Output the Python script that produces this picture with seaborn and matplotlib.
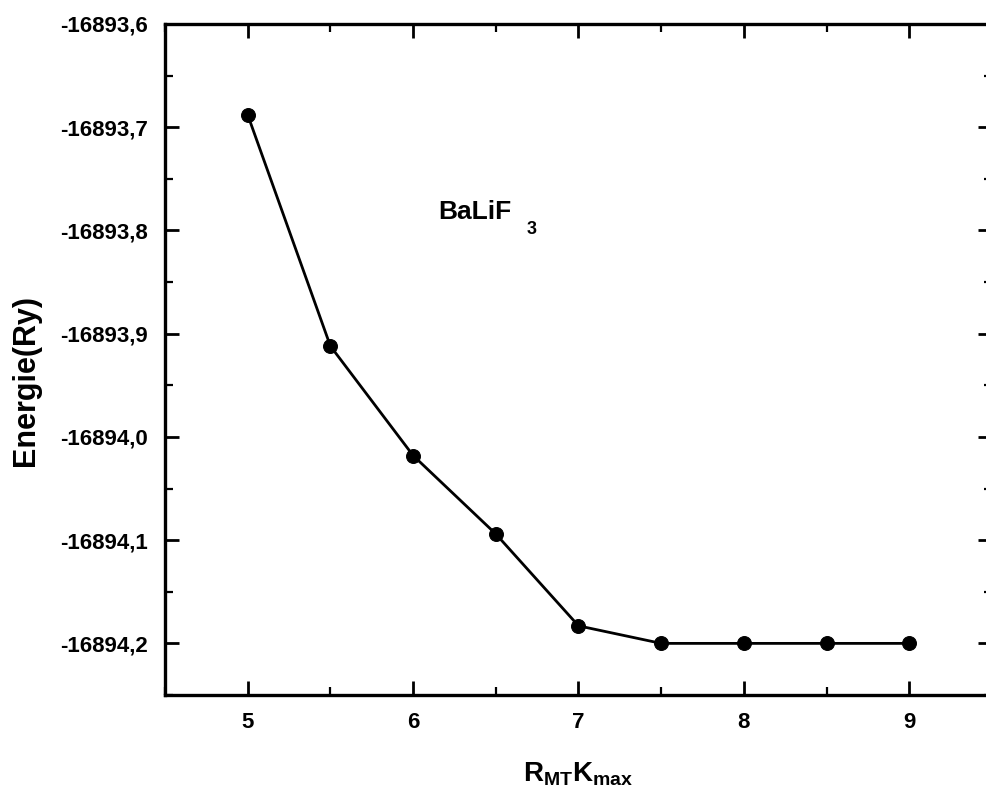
import matplotlib
matplotlib.use("Agg")
import matplotlib.pyplot as plt
import seaborn as sns
import pandas as pd
from matplotlib.ticker import FuncFormatter, MultipleLocator

rmt_kmax = [5.0, 5.5, 6.0, 6.5, 7.0, 7.5, 8.0, 8.5, 9.0]
energy = [-16893.688, -16893.912, -16894.018, -16894.094, -16894.183,
          -16894.200, -16894.200, -16894.200, -16894.200]
x_ticks = [5, 6, 7, 8, 9]
y_ticks = [-16893.6, -16893.7, -16893.8, -16893.9, -16894.0, -16894.1, -16894.2]

df = pd.DataFrame({"x": rmt_kmax, "y": energy})

sns.set_style("white")
plt.rcParams['font.family'] = ['Liberation Sans', 'DejaVu Sans']
plt.rcParams['font.weight'] = 'bold'
plt.rcParams['text.color'] = 'black'
plt.rcParams['axes.labelcolor'] = 'black'
plt.rcParams['mathtext.fontset'] = 'custom'
plt.rcParams['mathtext.rm'] = 'Liberation Sans:bold'
plt.rcParams['mathtext.bf'] = 'Liberation Sans:bold'
plt.rcParams['mathtext.it'] = 'Liberation Sans:bold'

fig = plt.figure(figsize=(9.87, 8.01), dpi=100)
ax = fig.add_axes([165/987, 1 - 695/801, (992 - 165)/987, (695 - 24)/801])

sns.lineplot(data=df, x="x", y="y", ax=ax, color="black", linewidth=2.0,
             marker="o", markersize=10, markeredgecolor="black",
             markerfacecolor="black")

ax.set_xlim(4.5, 9.5)
ax.set_ylim(-16894.25, -16893.6)
ax.set_xticks(x_ticks)
ax.set_yticks(y_ticks)
ax.xaxis.set_minor_locator(MultipleLocator(0.5))
ax.yaxis.set_minor_locator(MultipleLocator(0.05))
ax.yaxis.set_major_formatter(FuncFormatter(lambda v, p: f"{v:.1f}".replace(".", ",")))
ax.xaxis.set_major_formatter(FuncFormatter(lambda v, p: f"{v:g}"))

for s in ax.spines.values():
    s.set_linewidth(2.4)
    s.set_color("black")
    s.set_visible(True)

ax.tick_params(which="major", direction="in", length=10, width=2, top=True, right=True,
               bottom=True, left=True, labelsize=16, pad=12, colors="black")
ax.tick_params(which="minor", direction="in", length=5.5, width=1.6, top=True, right=True,
               bottom=True, left=True, colors="black")
for lab in ax.get_xticklabels() + ax.get_yticklabels():
    lab.set_fontweight("bold")

ax.set_xlabel(r"$\mathbf{R_{MT}K_{max}}$", fontsize=20)
ax.set_ylabel("Energie(Ry)", fontsize=22, fontweight="bold")
ax.yaxis.set_label_coords(-0.150, 0.468)
ax.xaxis.set_label_coords(0.5, -0.097)

ax.text(6.152, -16893.789, "BaLiF", fontsize=19, fontweight="bold",
        va="baseline", ha="left", color="black")
ax.text(6.685, -16893.803, "3", fontsize=13, fontweight="bold",
        va="baseline", ha="left", color="black")

fig.savefig("out.png", dpi=100)
